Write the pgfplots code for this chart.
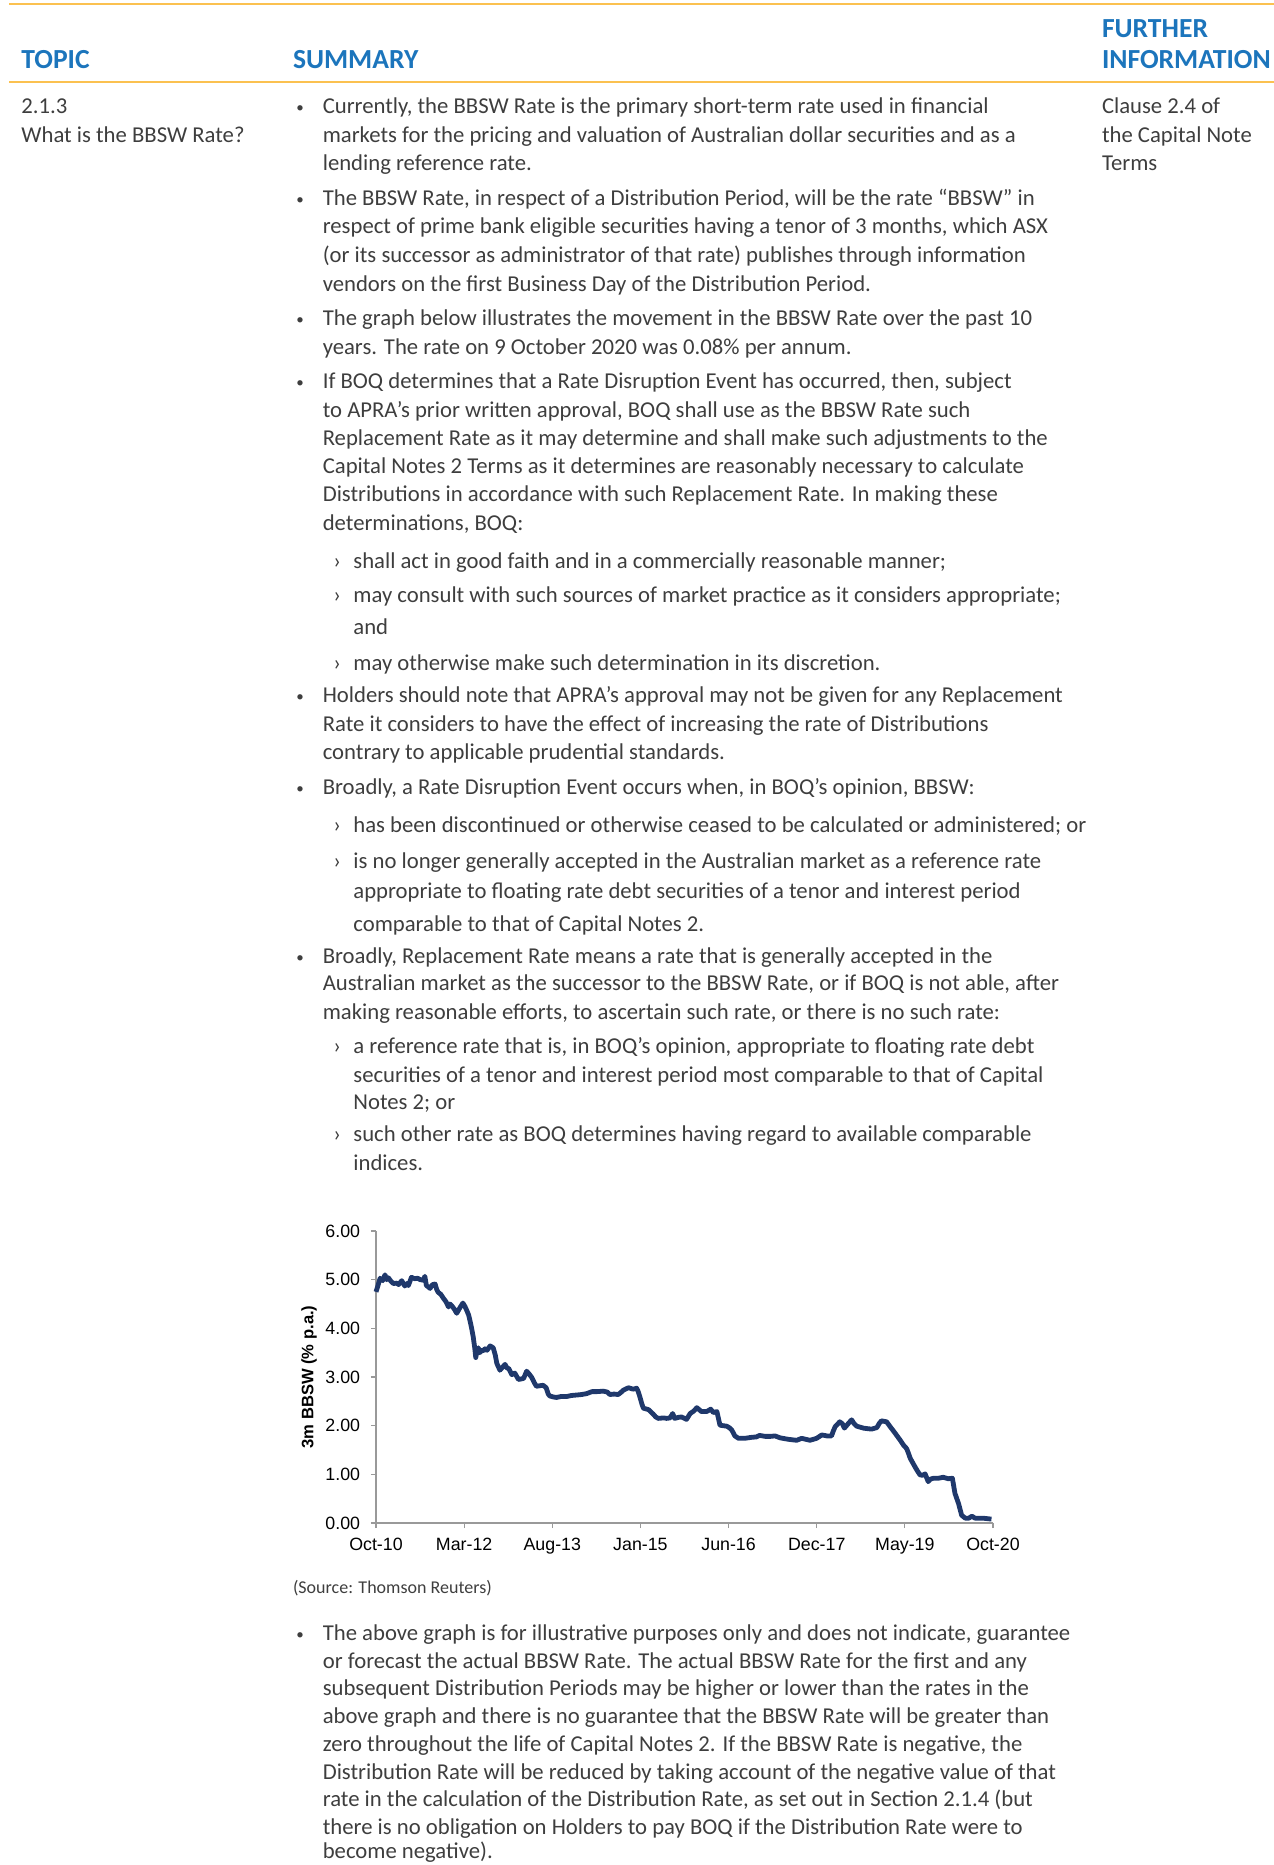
\documentclass[border=0pt]{standalone}
\usepackage{pgfplots}
\pgfplotsset{compat=1.18}
\usepackage{fontspec}
\setmainfont{Carlito}
\newfontfamily\arialfont{Liberation Sans}
\definecolor{txt}{RGB}{62,62,62}
\definecolor{hdr}{RGB}{28,117,188}
\definecolor{rule}{RGB}{251,193,80}
\definecolor{navy}{RGB}{31,56,107}
\newcommand{\bodyfont}{\fontsize{11.35}{14}\selectfont}
\newcommand{\TL}[3]{\node[anchor=base west,inner sep=0pt,font=\bodyfont,text=txt] at (#1,-#2) {#3};}
\newcommand{\BL}[2]{\node[anchor=base west,inner sep=0pt,font=\fontsize{7.5}{9}\selectfont,text=txt] at (296,-#1+1) {•};\TL{322.4}{#1}{#2}}
\newcommand{\SL}[2]{\node[anchor=base west,inner sep=0pt,font=\bodyfont,text=txt] at (333,-#1) {›};\TL{353}{#1}{#2}}
\newcommand{\HL}[3]{\node[anchor=base west,inner sep=0pt,font=\fontsize{13.8}{16}\selectfont\bfseries,text=hdr] at (#1,-#2) {#3};}
\begin{document}
\begin{tikzpicture}[x=0.5pt,y=0.5pt]
\useasboundingbox (0,0) rectangle (1274,-1865);
\draw[rule,line width=1pt] (9,-4) -- (1274,-4);
\draw[rule,line width=1pt] (9,-82) -- (1274,-82);
\HL{21}{68}{TOPIC}
\HL{292.6}{68}{SUMMARY}
\HL{1101.6}{37.1}{FURTHER}
\HL{1101.6}{68}{INFORMATION}
\TL{21}{113.7}{2.1.3}
\TL{21}{142.3}{What is the BBSW Rate?}
\TL{1101.6}{113.7}{Clause 2.4 of}
\TL{1101.6}{142.3}{the Capital Note}
\TL{1101.6}{170.8}{Terms}
\BL{113.7}{Currently, the BBSW Rate is the primary short-term rate used in financial}
\TL{322.4}{142.3}{markets for the pricing and valuation of Australian dollar securities and as a}
\TL{322.4}{170.8}{lending reference rate.}
\BL{205.3}{The BBSW Rate, in respect of a Distribution Period, will be the rate “BBSW” in}
\TL{322.4}{233.9}{respect of prime bank eligible securities having a tenor of 3 months, which ASX}
\TL{322.4}{262.4}{(or its successor as administrator of that rate) publishes through information}
\TL{322.4}{291.0}{vendors on the first Business Day of the Distribution Period.}
\BL{325.5}{The graph below illustrates the movement in the BBSW Rate over the past 10}
\TL{322.4}{354.0}{years. The rate on 9 October 2020 was 0.08\% per annum.}
\BL{388.5}{If BOQ determines that a Rate Disruption Event has occurred, then, subject}
\TL{322.4}{417.1}{to APRA’s prior written approval, BOQ shall use as the BBSW Rate such}
\TL{322.4}{445.6}{Replacement Rate as it may determine and shall make such adjustments to the}
\TL{322.4}{473.0}{Capital Notes 2 Terms as it determines are reasonably necessary to calculate}
\TL{322.4}{501.5}{Distributions in accordance with such Replacement Rate. In making these}
\TL{322.4}{530.1}{determinations, BOQ:}
\SL{568.2}{shall act in good faith and in a commercially reasonable manner;}
\SL{602.7}{may consult with such sources of market practice as it considers appropriate;}
\TL{353}{634.8}{and}
\SL{670.5}{may otherwise make such determination in its discretion.}
\BL{702.6}{Holders should note that APRA’s approval may not be given for any Replacement}
\TL{322.4}{731.1}{Rate it considers to have the effect of increasing the rate of Distributions}
\TL{322.4}{759.7}{contrary to applicable prudential standards.}
\BL{794.2}{Broadly, a Rate Disruption Event occurs when, in BOQ’s opinion, BBSW:}
\SL{832.3}{has been discontinued or otherwise ceased to be calculated or administered; or}
\SL{868.0}{is no longer generally accepted in the Australian market as a reference rate}
\TL{353}{898.9}{appropriate to floating rate debt securities of a tenor and interest period}
\TL{353}{931.0}{comparable to that of Capital Notes 2.}
\BL{963.1}{Broadly, Replacement Rate means a rate that is generally accepted in the}
\TL{322.4}{990.5}{Australian market as the successor to the BBSW Rate, or if BOQ is not able, after}
\TL{322.4}{1019.0}{making reasonable efforts, to ascertain such rate, or there is no such rate:}
\SL{1053.6}{a reference rate that is, in BOQ’s opinion, appropriate to floating rate debt}
\TL{353}{1082.1}{securities of a tenor and interest period most comparable to that of Capital}
\TL{353}{1109.5}{Notes 2; or}
\SL{1141.6}{such other rate as BOQ determines having regard to available comparable}
\TL{353}{1170.2}{indices.}
\node[anchor=base west,inner sep=0pt,font=\fontsize{9}{11}\selectfont,text=txt] at (292.6,-1593) {(Source: Thomson Reuters)};
\BL{1640.0}{The above graph is for illustrative purposes only and does not indicate, guarantee}
\TL{322.4}{1668.3}{or forecast the actual BBSW Rate. The actual BBSW Rate for the first and any}
\TL{322.4}{1695.5}{subsequent Distribution Periods may be higher or lower than the rates in the}
\TL{322.4}{1723.8}{above graph and there is no guarantee that the BBSW Rate will be greater than}
\TL{322.4}{1751.0}{zero throughout the life of Capital Notes 2. If the BBSW Rate is negative, the}
\TL{322.4}{1779.3}{Distribution Rate will be reduced by taking account of the negative value of that}
\TL{322.4}{1806.5}{rate in the calculation of the Distribution Rate, as set out in Section 2.1.4 (but}
\TL{322.4}{1834.0}{there is no obligation on Holders to pay BOQ if the Distribution Rate were to}
\TL{322.4}{1858.5}{become negative).}
\begin{axis}[
  at={(188pt,-761.5pt)}, anchor=south west,
  width=308.5pt, height=146pt, scale only axis,
  xmin=0, xmax=120, ymin=0, ymax=6,
  axis x line*=bottom, axis y line*=left,
  axis line style={gray!80, line width=0.6pt},
  tick style={gray!80, line width=0.6pt},
  tick align=outside, major tick length=2.6pt,
  xtick={0,17.142857,34.285714,51.428571,68.571429,85.714286,102.857143,120},
  xticklabels={Oct-10,Mar-12,Aug-13,Jan-15,Jun-16,Dec-17,May-19,Oct-20},
  ytick={0,1,2,3,4,5,6},
  ticklabel style={font=\arialfont\fontsize{8.9}{10}\selectfont, text=black},
  yticklabel style={xshift=-1.8pt, /pgf/number format/fixed, /pgf/number format/fixed zerofill, /pgf/number format/precision=2, /pgf/number format/assume math mode=true},
  xticklabel style={yshift=-1.6pt},
  ylabel={3m BBSW (\% p.a.)},
  ylabel style={font=\arialfont\bfseries\fontsize{8.3}{10}\selectfont, at={(axis description cs:-0.1086,0.5)}, anchor=center, rotate=0},
  clip=false,
]
\addplot[navy, line width=2.4pt, line join=round] coordinates {
(0,4.75) (0.3,4.85) (0.8,5.03) (1.3,4.98) (1.75,5.10) (2.1,5.0) (2.4,5.04) (2.9,4.97) (3.4,4.92) (4.0,4.93) (4.4,4.90) (5.0,4.98) (5.6,4.87) (6.0,4.92) (6.3,4.88) (6.9,5.05) (7.5,5.02) (8.1,5.03) (8.6,5.00) (9.2,4.99) (9.5,5.07) (9.8,4.88) (10.2,4.85) (10.5,4.82) (11.0,4.90) (11.5,4.91) (11.8,4.80) (12.1,4.74) (12.6,4.70) (13.1,4.62) (13.6,4.55) (14.1,4.44) (14.4,4.50) (14.7,4.47) (15.2,4.40) (15.7,4.31) (16.3,4.42) (16.9,4.52) (17.3,4.45) (17.6,4.38) (18.0,4.28) (18.3,4.15) (18.6,4.00) (18.9,3.83) (19.2,3.60) (19.4,3.40) (19.7,3.55) (19.9,3.60) (20.2,3.50) (20.5,3.55) (20.9,3.54) (21.2,3.58) (21.6,3.55) (22.2,3.64) (22.8,3.60) (23.2,3.45) (23.5,3.28) (24.1,3.14) (24.6,3.20) (25.1,3.26) (25.5,3.18) (25.8,3.18) (26.4,3.05) (27.0,3.08) (27.7,2.95) (28.2,2.96) (28.7,2.97) (29.3,3.12) (29.8,3.06) (30.3,2.99) (30.8,2.88) (31.2,2.81) (31.8,2.82) (32.5,2.83) (33.1,2.78) (33.5,2.65) (33.8,2.61) (34.5,2.59) (35.1,2.58) (36.0,2.60) (37.1,2.60) (38.0,2.62) (39.0,2.63) (40.0,2.64) (41.0,2.66) (42.0,2.70) (43.0,2.70) (44.2,2.71) (45.0,2.69) (45.5,2.64) (46.3,2.65) (47.1,2.64) (47.6,2.68) (48.1,2.73) (49.1,2.78) (50.0,2.75) (50.7,2.77) (51.0,2.70) (51.3,2.60) (51.7,2.45) (52.0,2.36) (53.0,2.33) (53.5,2.28) (53.9,2.24) (54.4,2.18) (54.9,2.15) (56.0,2.16) (56.5,2.15) (57.2,2.16) (57.7,2.25) (58.1,2.15) (58.8,2.17) (59.4,2.18) (60.4,2.13) (61.1,2.25) (61.8,2.30) (62.4,2.37) (63.3,2.29) (64.3,2.29) (65.1,2.34) (65.6,2.27) (66.3,2.29) (66.6,2.15) (66.9,2.01) (67.5,2.00) (68.2,1.99) (68.7,1.96) (69.2,1.91) (69.8,1.79) (70.5,1.74) (71.7,1.74) (73.0,1.76) (74.0,1.77) (74.6,1.80) (75.7,1.78) (76.7,1.78) (77.6,1.79) (78.6,1.75) (80.2,1.72) (81.8,1.70) (82.8,1.74) (84.4,1.70) (85.7,1.74) (86.7,1.81) (87.7,1.79) (88.6,1.79) (88.9,1.88) (89.3,1.98) (90.2,2.08) (90.7,2.04) (91.1,1.95) (91.9,2.05) (92.5,2.12) (93.0,2.04) (93.5,1.99) (94.8,1.95) (95.5,1.94) (96.4,1.93) (97.4,1.96) (97.9,2.05) (98.3,2.10) (99.3,2.08) (100.0,1.98) (101.0,1.84) (101.9,1.71) (102.6,1.60) (103.2,1.53) (103.5,1.45) (103.9,1.33) (104.8,1.16) (105.3,1.07) (105.8,0.99) (106.3,0.98) (106.8,1.01) (107.4,0.85) (107.8,0.90) (108.4,0.92) (109.4,0.92) (110.3,0.94) (111.3,0.91) (112.1,0.92) (112.6,0.61) (113.3,0.40) (113.9,0.16) (114.6,0.10) (115.3,0.10) (115.9,0.14) (116.5,0.10) (118.0,0.10) (119.7,0.08)
};
\end{axis}
\end{tikzpicture}
\end{document}
